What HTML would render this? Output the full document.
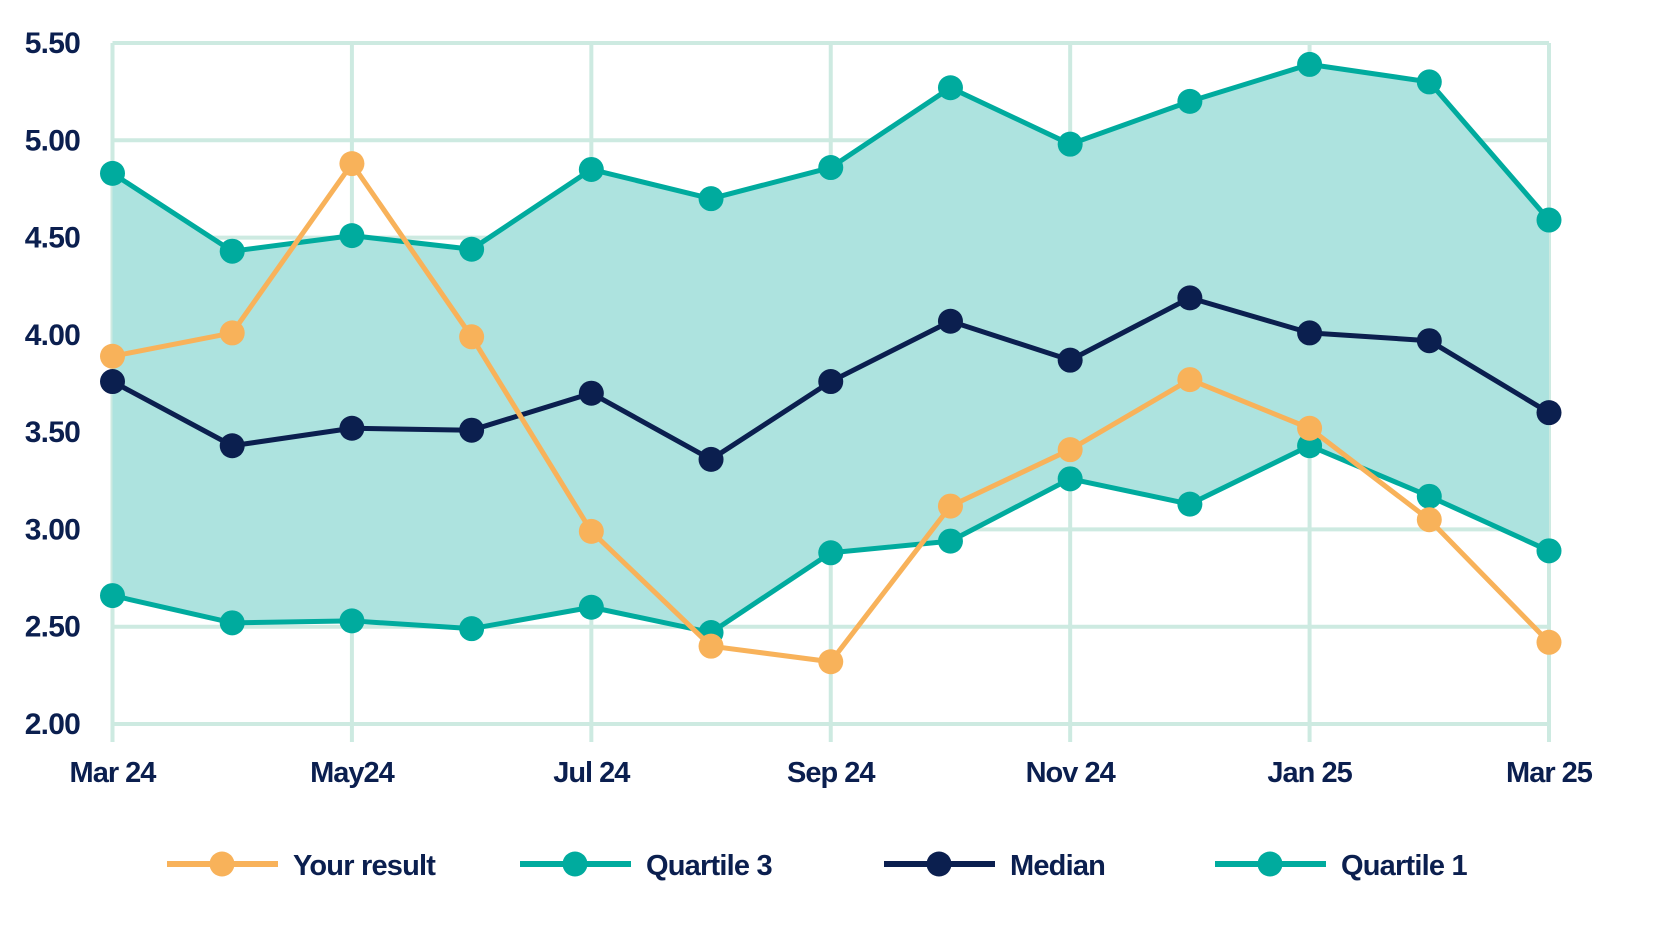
<!DOCTYPE html>
<html><head><meta charset="utf-8"><style>
html,body{margin:0;padding:0;background:#fff;}
svg{display:block;font-family:"Liberation Sans",sans-serif;}
</style></head><body>
<svg id="chart" width="1667" height="938" viewBox="0 0 1667 938" xmlns="http://www.w3.org/2000/svg"></svg>
<script>
const months = ["Mar 24","Apr 24","May24","Jun 24","Jul 24","Aug 24","Sep 24","Oct 24","Nov 24","Dec 24","Jan 25","Feb 25","Mar 25"];
const yTicks = ["2.00","2.50","3.00","3.50","4.00","4.50","5.00","5.50"];
const yourResult = [3.89,4.01,4.88,3.99,2.99,2.40,2.32,3.12,3.41,3.77,3.52,3.05,2.42];
const quartile3 = [4.83,4.43,4.51,4.44,4.85,4.70,4.86,5.27,4.98,5.20,5.39,5.30,4.59];
const median = [3.76,3.43,3.52,3.51,3.70,3.36,3.76,4.07,3.87,4.19,4.01,3.97,3.60];
const quartile1 = [2.66,2.52,2.53,2.49,2.60,2.47,2.88,2.94,3.26,3.13,3.43,3.17,2.89];

const NS="http://www.w3.org/2000/svg";
const svg=document.getElementById('chart');
const L=112.5,R=1549,T=43,B=724,yMin=2,yMax=5.5;
const x=i=>L+i*(R-L)/(months.length-1);
const y=v=>B-(v-yMin)/(yMax-yMin)*(B-T);
function mk(tag,attrs,parent){const e=document.createElementNS(NS,tag);for(const k in attrs)e.setAttribute(k,attrs[k]);(parent||svg).appendChild(e);return e;}
const navy="#0b1f4f",teal="#00ab9e",orange="#f8b25a",grid="#cdeae1";

let d="M"+quartile3.map((v,i)=>x(i)+","+y(v)).join(" L");
for(let i=quartile1.length-1;i>=0;i--) d+=" L"+x(i)+","+y(quartile1[i]);

const g=mk('g',{});


yTicks.forEach(t=>{
  const yy=y(parseFloat(t));
  const ln=mk('line',{x1:L,x2:R,y1:yy,y2:yy,stroke:grid,"stroke-width":4},g);
  
  
  const tx=mk('text',{x:80,y:yy+10,"text-anchor":"end","font-size":30,"font-weight":"bold",fill:navy,"letter-spacing":"-0.8"});
  tx.textContent=t;
  
  
});
months.forEach((m,i)=>{
  if(i%2) return;
  const ln=mk('line',{x1:x(i),x2:x(i),y1:T,y2:742,stroke:grid,"stroke-width":4},g);
  
  
  const tx=mk('text',{x:x(i),y:782,"text-anchor":"middle","font-size":29,"font-weight":"bold",fill:navy,"letter-spacing":"-1"});
  tx.textContent=m;
  
  
});
const band=mk('path',{d:d+"Z",fill:"#ade3df"});



function series(vals,color,name){
  const gg=mk('g',{});
  
  
  const p=mk('polyline',{points:vals.map((v,i)=>x(i)+","+y(v)).join(" "),fill:"none",stroke:color,"stroke-width":5,"stroke-linejoin":"round"},gg);
  
  
  vals.forEach((v,i)=>{
    const c=mk('circle',{cx:x(i),cy:y(v),r:12.5,fill:color},gg);
    
    
  });
}
series(quartile1,teal,'quartile-1');
series(quartile3,teal,'quartile-3');
series(median,navy,'median');
series(yourResult,orange,'your-result');

const leg=mk('g',{});


const items=[["Your result",orange,167],["Quartile 3",teal,520],["Median",navy,884],["Quartile 1",teal,1215]];
items.forEach(([lab,col,x0])=>{
  const e=mk('g',{},leg);
  
  
  mk('line',{x1:x0,x2:x0+111,y1:864,y2:864,stroke:col,"stroke-width":6},e);
  mk('circle',{cx:x0+55,cy:864,r:12.5,fill:col},e);
  const t=mk('text',{x:x0+126,y:875,"font-size":29,"font-weight":"bold",fill:navy,"letter-spacing":"-0.8"},e);
  t.textContent=lab;
});
</script>
</body></html>
